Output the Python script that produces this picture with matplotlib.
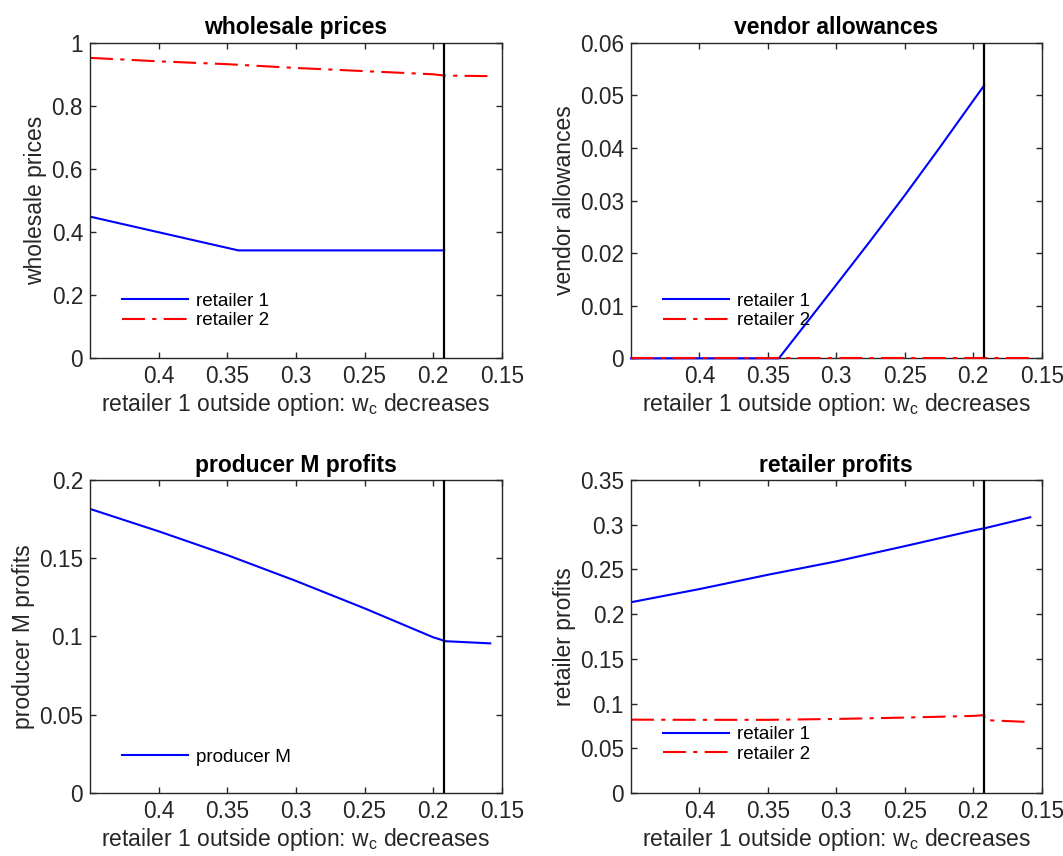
import numpy as np
import matplotlib
matplotlib.use("Agg")
import matplotlib.pyplot as plt
from matplotlib.ticker import FormatStrFormatter

plt.rcParams['font.family'] = ['Liberation Sans', 'DejaVu Sans']
plt.rcParams['mathtext.fontset'] = 'custom'
plt.rcParams['mathtext.rm'] = 'Liberation Sans'
plt.rcParams['mathtext.it'] = 'Liberation Sans'

# ---- data ----
wc_cut = 0.192   # vertical marker

# wholesale prices
wc_price_r1 = [0.45, 0.342, 0.192]
price_r1 = [0.449, 0.342, 0.342]
wc_price_r2 = [0.45, 0.40, 0.35, 0.30, 0.25, 0.20, 0.192, 0.1584]
price_r2 = [0.952, 0.941, 0.932, 0.920, 0.910, 0.900, 0.896, 0.894]

# vendor allowances
wc_allow_r1 = [0.45, 0.342, 0.30, 0.275, 0.25, 0.225, 0.20, 0.192]
allow_r1 = [0.0, 0.0, 0.0140, 0.0224, 0.0310, 0.0399, 0.0490, 0.0519]
wc_allow_r2 = [0.45, 0.1584]
allow_r2 = [0.0, 0.0]

# producer M profits
wc_prod = [0.45, 0.40, 0.35, 0.30, 0.25, 0.20, 0.192, 0.1915, 0.1584]
prod_M = [0.1815, 0.1672, 0.1520, 0.1355, 0.1180, 0.0995, 0.0973, 0.0970, 0.0956]

# retailer profits
wc_prof = [0.45, 0.40, 0.35, 0.30, 0.25, 0.20, 0.192, 0.1915, 0.1584]
prof_r1 = [0.2133, 0.2280, 0.2440, 0.2590, 0.2760, 0.2935, 0.2960, 0.2961, 0.3083]
prof_r2 = [0.0820, 0.0818, 0.0818, 0.0828, 0.0843, 0.0862, 0.0870, 0.0815, 0.0793]

xticks = [0.4, 0.35, 0.3, 0.25, 0.2, 0.15]
xlabel = 'retailer 1 outside option: w$_\\mathregular{c}$ decreases'

blue = (0, 0, 1)
red = (1, 0, 0)
dashdot = (0, (11, 3.5, 2, 3.5))
gray = (0.15, 0.15, 0.15)

fig = plt.figure(figsize=(10.63, 8.56), dpi=100)

boxes = [
    [0.0847, 0.5814, 0.3873, 0.3687],
    [0.5936, 0.5814, 0.3864, 0.3687],
    [0.0847, 0.0736, 0.3873, 0.3657],
    [0.5936, 0.0736, 0.3864, 0.3657],
]
axs = [fig.add_axes(b) for b in boxes]


def style(ax, title, ylabel, ylim, yticks):
    ax.set_xlim(0.45, 0.15)
    ax.set_ylim(*ylim)
    ax.set_xticks(xticks)
    ax.set_yticks(yticks)
    ax.xaxis.set_major_formatter(FormatStrFormatter('%g'))
    ax.yaxis.set_major_formatter(FormatStrFormatter('%g'))
    ax.tick_params(direction='in', length=4, width=1, top=True, right=True,
                   labelsize=16.3, colors=gray, pad=5)
    for s in ax.spines.values():
        s.set_color(gray)
        s.set_linewidth(1.0)
    ax.set_title(title, fontsize=16.5, fontweight='bold', pad=6)
    ax.set_ylabel(ylabel, fontsize=16.5, color=gray, labelpad=3)
    ax.set_xlabel(xlabel, fontsize=16.5, color=gray, labelpad=2)
    ax.axvline(wc_cut, color='k', lw=1.6, zorder=5)


def legend(ax, handles, labels, y):
    ax.legend(handles, labels, loc='center left', bbox_to_anchor=(0.078, y),
              frameon=False, fontsize=13.6, handlelength=3.5,
              handletextpad=0.4, labelspacing=0.12, borderpad=0,
              borderaxespad=0)


# wholesale prices
ax = axs[0]
a, = ax.plot(wc_price_r1, price_r1, color=blue, lw=1.5)
b, = ax.plot(wc_price_r2, price_r2, color=red, lw=1.5, linestyle=dashdot)
style(ax, 'wholesale prices', 'wholesale prices', (0, 1),
      [0, 0.2, 0.4, 0.6, 0.8, 1])
legend(ax, [a, b], ['retailer 1', 'retailer 2'], 0.15)

# vendor allowances
ax = axs[1]
a, = ax.plot(wc_allow_r1, allow_r1, color=blue, lw=1.5, clip_on=False,
             zorder=3)
b, = ax.plot(wc_allow_r2, allow_r2, color=red, lw=1.5, linestyle=dashdot,
             clip_on=False, zorder=4)
style(ax, 'vendor allowances', 'vendor allowances', (0, 0.06),
      [0, 0.01, 0.02, 0.03, 0.04, 0.05, 0.06])
legend(ax, [a, b], ['retailer 1', 'retailer 2'], 0.15)

# producer M profits
ax = axs[2]
a, = ax.plot(wc_prod, prod_M, color=blue, lw=1.5)
style(ax, 'producer M profits', 'producer M profits', (0, 0.2),
      [0, 0.05, 0.1, 0.15, 0.2])
legend(ax, [a], ['producer M'], 0.115)

# retailer profits
ax = axs[3]
a, = ax.plot(wc_prof, prof_r1, color=blue, lw=1.5)
b, = ax.plot(wc_prof, prof_r2, color=red, lw=1.5, linestyle=dashdot)
style(ax, 'retailer profits', 'retailer profits', (0, 0.35),
      [0, 0.05, 0.1, 0.15, 0.2, 0.25, 0.3, 0.35])
legend(ax, [a, b], ['retailer 1', 'retailer 2'], 0.155)

fig.savefig('out.png', dpi=100)
